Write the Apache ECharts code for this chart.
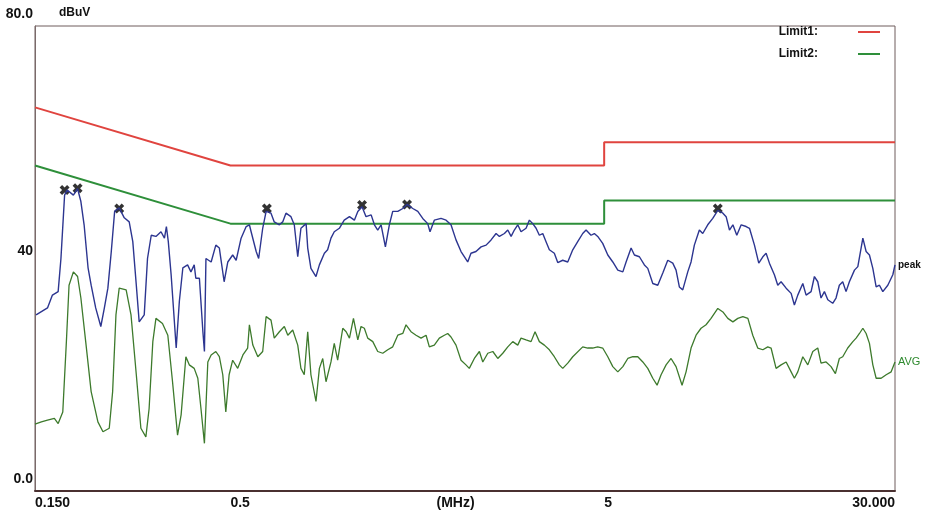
<!DOCTYPE html>
<html>
<head>
<meta charset="utf-8">
<title>Conducted emission scan</title>
<script src="https://cdn.jsdelivr.net/npm/echarts@6/dist/echarts.min.js"></script>
<style>
  html, body { margin: 0; padding: 0; background: #fff; }
  #chart { width: 932px; height: 515px; }
</style>
</head>
<body>
<div id="chart"></div>
<script>
// frequencies in MHz, levels in dBuV
const limit1Freq = [0.15, 0.5, 5, 5, 30];
const limit1Level = [66, 56, 56, 60, 60];
const limit2Freq = [0.15, 0.5, 5, 5, 30];
const limit2Level = [56, 46, 46, 50, 50];

const peakFreq = [
  0.151,0.162,0.167,0.173,0.176,0.180,0.183,0.190,0.195,0.199,
  0.203,0.208,0.212,0.218,0.225,0.230,0.235,0.240,0.245,0.252,
  0.260,0.268,0.274,0.280,0.285,0.294,0.300,0.307,0.316,0.326,
  0.333,0.337,0.341,0.347,0.358,0.365,0.373,0.384,0.392,0.400,
  0.404,0.413,0.422,0.426,0.430,0.444,0.457,0.467,0.481,0.492,
  0.507,0.518,0.534,0.551,0.562,0.568,0.586,0.595,0.610,0.623,
  0.642,0.655,0.676,0.690,0.704,0.726,0.741,0.757,0.772,0.797,
  0.805,0.821,0.847,0.865,0.892,0.910,0.929,0.948,0.978,1.008,
  1.041,1.073,1.096,1.125,1.153,1.190,1.214,1.239,1.265,1.299,
  1.331,1.359,1.402,1.446,1.484,1.538,1.586,1.635,1.686,1.710,
  1.756,1.830,1.888,1.946,2.007,2.070,2.157,2.201,2.270,2.342,
  2.416,2.491,2.569,2.622,2.704,2.761,2.818,2.875,2.936,2.996,
  3.090,3.154,3.220,3.287,3.354,3.425,3.495,3.567,3.678,3.756,
  3.874,3.995,4.120,4.248,4.381,4.472,4.611,4.706,4.805,4.955,
  5.113,5.273,5.438,5.609,5.723,5.902,6.024,6.212,6.406,6.541,
  6.746,6.957,7.175,7.398,7.630,7.786,7.946,8.114,8.368,8.540,
  8.715,8.988,9.177,9.464,9.761,10.07,10.39,10.60,10.82,11.05,
  11.32,11.63,11.99,12.24,12.62,12.96,13.29,13.56,13.84,14.27,
  14.57,14.87,15.34,15.82,16.14,16.48,17.00,17.35,17.89,18.26,
  18.64,19.02,19.42,19.83,20.44,20.86,21.29,21.74,22.19,22.65,
  23.37,23.86,24.61,25.11,25.63,26.17,26.71,27.26,27.83,28.70,
  29.60,30.0
];
const peakLevel = [
  30.3,31.5,33.7,34.3,40,50.9,51.8,50.9,52,49.8,
  45.8,38.4,35.4,31.5,28.3,31.5,34.9,41.2,48.1,48.7,
  47,46.3,42.9,35.4,29.1,30.3,40,44,43.8,44.6,
  43.5,45.5,42.9,37.2,24.6,32.6,38.4,38.9,37.7,38.9,
  36.6,36.6,27.4,24,40,39.4,42.3,41.8,36,39.4,
  40.6,39.7,43.5,45.5,45.8,44.6,41.2,40,45.2,48.1,
  47.8,46.3,45.8,46.3,47.8,47.2,45.8,40.3,45.2,46,
  41.8,38.3,36.9,38.9,40.9,41.5,43.5,44.6,45.2,46.6,
  47.2,46.6,48.1,48.9,47.2,47.5,45.8,44.9,45.8,42,
  45.8,48.1,48.1,48.6,49.3,48.6,48.1,46.9,46,44.6,
  46.6,46.9,46.6,45.8,43.2,41.2,39.4,40.9,41.2,42,
  42.3,43.2,44.3,43.8,44.3,44.9,43.8,44.9,45.8,44.6,
  45.2,46.6,46,45.2,44,44.3,42.9,41.5,40.9,39.3,
  39.7,39.4,41.5,42.9,44.3,44.9,44,44.3,43.8,42.6,
  40.6,39.4,38,37.7,39.4,41.8,40.6,40.3,38.9,38.3,
  35.7,35.4,37.5,39.7,39.2,38,35.1,34.6,37.7,39.4,
  42.3,44.9,44.3,45.8,46.9,48.3,47.8,47.2,44.9,45.8,
  44,45.8,45.5,45.2,42.3,39.2,40.3,40.9,39.2,37.2,
  35.4,36,34.9,34,32,33.7,35.7,33.7,34.3,36.9,
  36,33.2,34.3,32.9,32.3,33.2,35.4,36,34.3,36,
  38,38.6,43.5,41.2,40.6,38.3,35.1,35.4,34.3,35.4,
  37.2,38.9
];

const avgFreq = [
  0.150,0.156,0.162,0.169,0.173,0.178,0.182,0.185,0.190,0.195,
  0.199,0.205,0.212,0.221,0.228,0.237,0.242,0.247,0.252,0.263,
  0.271,0.280,0.288,0.297,0.303,0.310,0.316,0.329,0.340,0.350,
  0.361,0.369,0.380,0.388,0.400,0.409,0.417,0.426,0.435,0.444,
  0.457,0.467,0.477,0.486,0.496,0.507,0.523,0.540,0.556,0.562,
  0.574,0.592,0.610,0.623,0.642,0.655,0.676,0.697,0.712,0.734,
  0.757,0.772,0.788,0.805,0.821,0.847,0.865,0.883,0.901,0.929,
  0.948,0.968,0.999,1.020,1.041,1.067,1.096,1.118,1.141,1.165,
  1.202,1.239,1.278,1.318,1.359,1.402,1.446,1.475,1.521,1.569,
  1.618,1.669,1.703,1.756,1.811,1.868,1.907,1.946,2.007,2.070,
  2.134,2.178,2.247,2.318,2.367,2.441,2.518,2.596,2.677,2.761,
  2.847,2.936,2.996,3.090,3.187,3.266,3.354,3.459,3.567,3.678,
  3.793,3.874,3.995,4.120,4.381,4.518,4.659,4.805,4.955,5.113,
  5.273,5.438,5.609,5.784,5.965,6.151,6.344,6.541,6.746,6.927,
  7.100,7.322,7.550,7.786,8.079,8.281,8.540,8.807,9.082,9.366,
  9.658,10.07,10.39,10.71,11.05,11.39,11.75,12.12,12.49,12.88,
  13.29,13.70,13.98,14.42,14.87,15.34,15.82,16.14,16.48,17.00,
  17.53,18.08,18.64,19.02,19.62,20.23,20.78,21.29,21.74,22.42,
  23.14,23.61,24.10,24.61,25.11,25.63,26.17,26.71,27.54,28.41,
  29.30,30.0
];
const avgLevel = [
  11.5,11.9,12.2,12.5,11.6,13.6,25.7,35.4,37.7,36.9,
  33.2,25.7,17.1,11.9,10.2,10.8,17.1,30.3,34.9,34.6,
  30.3,20,10.8,9.3,14.2,25.7,29.7,28.8,26.8,18.8,
  9.6,13.1,23.1,21.7,21.1,19.4,14.2,8.2,22.2,23.4,
  24,23.1,20,13.6,20,22.5,21.1,23.4,24.6,28.6,
  25.1,23.1,24,30,29.4,26.3,27.4,28.3,26.8,27.7,
  25.1,21.1,20,27.4,20,15.4,21.1,22.8,18.8,22.2,
  25.4,22.5,28,27.4,26.3,29.7,26,28.3,28,26.3,
  25.7,24,23.7,24.3,24.8,26.8,27.1,28.6,27.4,26.8,
  26.3,26.8,24.8,25.1,26.3,26.8,27.1,26.5,25.1,22.5,
  21.7,21.1,22.8,24,22.2,23.7,24,22.8,23.7,24.8,
  25.7,25.1,26.3,26,25.7,27.4,25.7,25.1,24.3,23.1,
  21.7,21.1,22,23.1,24.8,24.6,24.6,24.8,24.6,23.1,
  21.4,20.5,21.4,22.8,23.1,23.1,22.2,21.1,19.4,18.2,
  20,21.7,22.8,21.4,18.2,20.5,24.6,26.8,28,28.6,
  29.7,31.4,30.8,29.7,29.1,29.7,30,29.7,26.8,24.6,
  24.3,24.8,24.6,21.1,21.7,22.2,20.5,19.4,20.5,23.1,
  21.7,24,24.6,22,22.2,21.4,20.2,22.8,23.1,24.6,
  25.7,26.3,27.1,28,27.1,25.4,21.7,19.4,19.4,20,
  20.5,22.2
];

// peak markers (x)
const markerFreq = [0.180, 0.195, 0.252, 0.626, 1.125, 1.484, 10.07];
const markerLevel = [51.8, 52.1, 48.6, 48.6, 49.2, 49.3, 48.6];

// axis labels
const xTickFreq = [0.15, 0.5, 1.78, 5, 30];
const xTickText = ['0.150', '0.5', '(MHz)', '5', '30.000'];
const yTickValue = [0, 40, 80];
const yTickText = ['0.0', '40', '80.0'];

// log frequency axis: values are placed at log10(f)
const lg = f => Math.log10(f);
const pairs = (fs, vs) => fs.map((f, i) => [lg(f), vs[i]]);

function tickText(v) {
  let best = 0;
  xTickFreq.forEach((f, i) => {
    if (Math.abs(lg(f) - v) < Math.abs(lg(xTickFreq[best]) - v)) best = i;
  });
  return xTickText[best];
}

// y labels: 0.0 and 80.0 sit a bit higher above their line
function yLabel(v) {
  const t = yTickText[yTickValue.indexOf(v)];
  return v === 40 ? t : '{up|' + t + '}';
}

const crossPath = 'path://M0,2.5L2.5,0L5,2.5L7.5,0L10,2.5L7.5,5L10,7.5L7.5,10L5,7.5L2.5,10L0,7.5L2.5,5Z';
const fontFam = '"Liberation Sans", Arial, sans-serif';

const chart = echarts.init(document.getElementById('chart'));
chart.setOption({
  animation: false,
  backgroundColor: '#fff',
  textStyle: { fontFamily: fontFam },
  grid: {
    left: 35, right: 37, top: 26, bottom: 24,
    show: true, borderColor: '#6e5c5c', borderWidth: 1
  },
  legend: {
    data: ['Limit1:', 'Limit2:'],
    orient: 'vertical',
    right: 52, top: 26,
    padding: 0,
    align: 'right',
    icon: 'rect',
    itemWidth: 22, itemHeight: 2,
    itemGap: 10,
    textStyle: { fontSize: 12, fontWeight: 'bold', color: '#111', padding: [0, 35, 0, 0] }
  },
  xAxis: {
    type: 'value',
    min: lg(0.15), max: lg(30),
    axisLine: { onZero: false, lineStyle: { color: '#4a3030', width: 2 } },
    axisTick: { show: false },
    splitLine: { show: false },
    axisLabel: {
      customValues: xTickFreq.map(lg),
      formatter: tickText,
      align: 'left',
      alignMaxLabel: 'right',
      margin: 5,
      fontSize: 14, fontWeight: 'bold', color: '#111'
    }
  },
  yAxis: {
    type: 'value',
    min: 0, max: 80,
    name: 'dBuV',
    nameLocation: 'end',
    nameGap: 7,
    nameTextStyle: { align: 'left', padding: [0, 0, 0, 24], fontSize: 12, fontWeight: 'bold', color: '#111' },
    axisLine: { show: true, onZero: false, lineStyle: { color: '#7a6a6a', width: 1 } },
    axisTick: { show: false },
    splitLine: { show: false },
    axisLabel: {
      customValues: yTickValue,
      formatter: yLabel,
      verticalAlign: 'bottom',
      margin: 2,
      fontSize: 14, fontWeight: 'bold', color: '#111',
      rich: {
        up: { fontSize: 14, fontWeight: 'bold', color: '#111', padding: [0, 0, 5, 0] }
      }
    }
  },
  series: [
    {
      name: 'Limit1:', type: 'line', showSymbol: false, silent: true,
      data: pairs(limit1Freq, limit1Level),
      lineStyle: { color: '#e0443f', width: 2 }, itemStyle: { color: '#e0443f' }
    },
    {
      name: 'Limit2:', type: 'line', showSymbol: false, silent: true,
      data: pairs(limit2Freq, limit2Level),
      lineStyle: { color: '#2e8f3a', width: 2 }, itemStyle: { color: '#2e8f3a' }
    },
    {
      name: 'peak', type: 'line', showSymbol: false,
      data: pairs(peakFreq, peakLevel),
      lineStyle: { color: '#2c3590', width: 1.4 }, itemStyle: { color: '#2c3590' },
      endLabel: { show: true, formatter: 'peak', color: '#111', fontSize: 10, fontWeight: 'bold', distance: 3 }
    },
    {
      name: 'AVG', type: 'line', showSymbol: false,
      data: pairs(avgFreq, avgLevel),
      lineStyle: { color: '#3d7a2c', width: 1.3 }, itemStyle: { color: '#3d7a2c' },
      endLabel: { show: true, formatter: 'AVG', color: '#2f8a2f', fontSize: 11, distance: 3 }
    },
    {
      name: 'markers', type: 'scatter',
      data: pairs(markerFreq, markerLevel),
      symbol: crossPath, symbolSize: 10,
      itemStyle: { color: '#000' }
    }
  ]
});
</script>
</body>
</html>
